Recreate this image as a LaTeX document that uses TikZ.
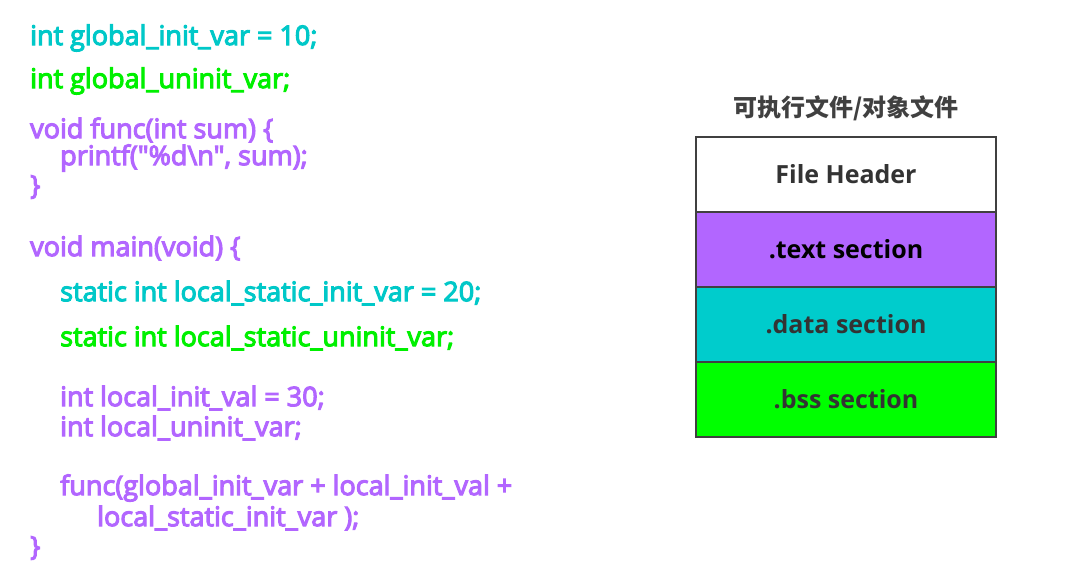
\documentclass[tikz,border=0pt]{standalone}
\usepackage{fontspec}
\setmainfont{Open Sans}
\newfontfamily\codefont[FakeBold=4]{Open Sans}
\newfontfamily\cjk{Noto Sans CJK SC}
\definecolor{codecyan}{HTML}{00C8C8}
\definecolor{codegreen}{HTML}{00F000}
\definecolor{codepurple}{HTML}{B266FF}
\definecolor{boxcyan}{HTML}{00CCCC}
\definecolor{boxgreen}{HTML}{00FF00}
\definecolor{boxpurple}{HTML}{B266FF}
\definecolor{edgegray}{HTML}{404040}
\begin{document}
\begin{tikzpicture}[
  x=1pt, y=-1pt,
  code/.style={anchor=west, inner sep=0pt, font=\codefont\fontsize{27}{29}\selectfont},
  sect/.style={draw=edgegray, line width=2pt, minimum width=300pt, minimum height=75pt,
    inner sep=0pt, text=black!80, font=\fontsize{25}{27}\selectfont\bfseries},
]
  \fill[white] (0,0) rectangle (1065,585);
  % code on the left
  \node[code, text=codecyan] (l1) at (30,38) {int global\_init\_var = 10;};
  \node[code, text=codegreen] (l2) at (30,81) {int global\_uninit\_var;};
  \node[code, text=codepurple] (l3) at (30,130) {void func(int sum) \{};
  \node[code, text=codepurple] (l4) at (60,158) {printf("\%d\textbackslash n", sum);};
  \node[code, text=codepurple] (l5) at (30,187) {\}};
  \node[code, text=codepurple] (l6) at (30,248) {void main(void) \{};
  \node[code, text=codecyan] (l7) at (60,293) {static int local\_static\_init\_var = 20;};
  \node[code, text=codegreen] (l8) at (60,338) {static int local\_static\_uninit\_var;};
  \node[code, text=codepurple] (l9) at (60,398) {int local\_init\_val = 30;};
  \node[code, text=codepurple] (l10) at (60,428) {int local\_uninit\_var;};
  \node[code, text=codepurple] (l11) at (60,488) {func(global\_init\_var + local\_init\_val +};
  \node[code, text=codepurple] (l12) at (97,518) {local\_static\_init\_var );};
  \node[code, text=codepurple] (l13) at (30,548) {\}};
  % file layout on the right
  \node[font=\cjk\fontsize{24}{26}\selectfont\bfseries, text=black!75] (ttl) at (846,108) {可执行文件/对象文件};
  \node[sect, fill=white] (hdr) at (846,174.5) {File Header};
  \node[sect, fill=boxpurple, text=black] (txt) at (846,249.5) {.text section};
  \node[sect, fill=boxcyan] (dat) at (846,324.5) {.data section};
  \node[sect, fill=boxgreen] (bss) at (846,399.5) {.bss section};
\end{tikzpicture}
\end{document}
